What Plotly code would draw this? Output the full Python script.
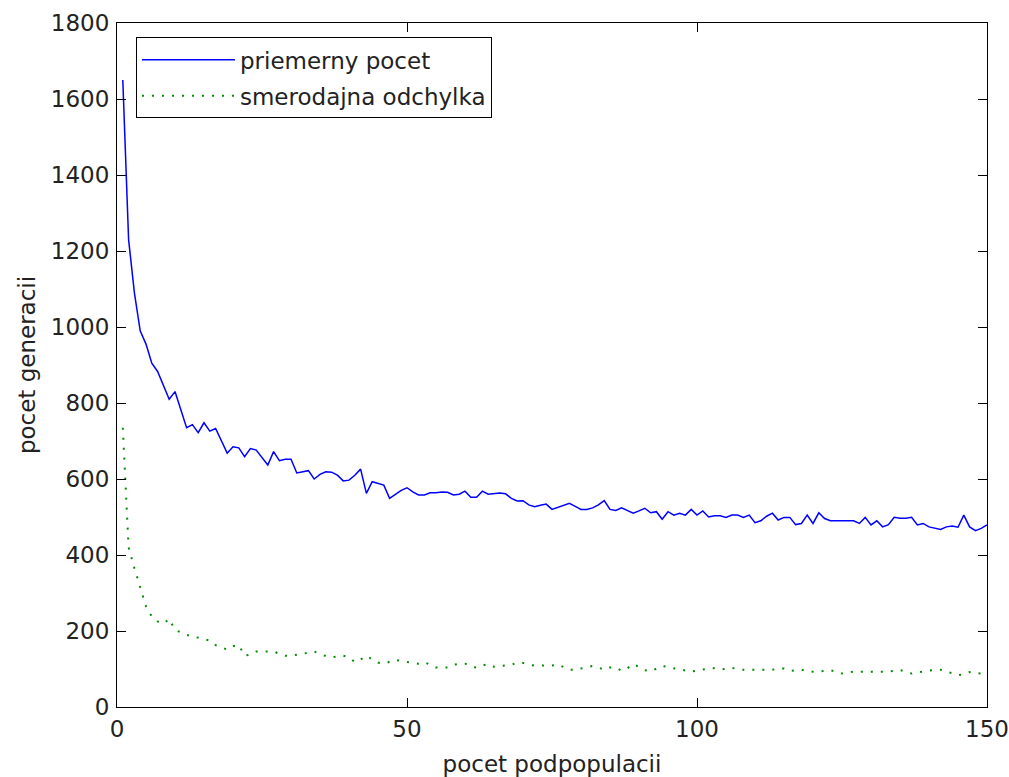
import plotly.graph_objects as go

# x: number of subpopulations
x_vals = list(range(1, 151))

# mean number of generations ("priemerny pocet")
mean_vals = [
    1650, 1230, 1090, 990, 955, 905, 883, 848, 810, 830,
    785, 735, 743, 722, 748, 726, 733, 700, 668, 685,
    682, 659, 680, 676, 655, 637, 672, 648, 652, 652,
    616, 620, 622, 600, 612, 619, 618, 610, 595, 597,
    610, 626, 562, 593, 588, 584, 549, 560, 570, 577,
    566, 558, 558, 564, 564, 566, 565, 558, 560, 568,
    552, 552, 568, 560, 562, 563, 561, 549, 542, 543,
    532, 527, 531, 534, 520, 525, 530, 536, 528, 520,
    520, 524, 532, 543, 520, 517, 524, 518, 510, 516,
    523, 511, 514, 494, 514, 505, 510, 505, 520, 505,
    516, 500, 503, 503, 499, 505, 505, 499, 505, 485,
    490, 502, 510, 492, 499, 499, 480, 483, 505, 483,
    511, 496, 490, 490, 490, 490, 490, 483, 499, 479,
    490, 474, 480, 499, 497, 497, 499, 479, 483, 474,
    470, 467, 474, 476, 473, 505, 474, 464, 470, 479,
]

# standard deviation ("smerodajna odchylka")
std_vals = [
    735, 420, 365, 318, 265, 238, 225, 219, 232, 203,
    196, 190, 186, 182, 179, 175, 163, 156, 151, 160,
    163, 135, 138, 146, 146, 146, 146, 140, 135, 135,
    137, 140, 143, 146, 140, 134, 131, 133, 135, 131,
    118, 125, 135, 125, 117, 114, 118, 124, 121, 119,
    116, 114, 118, 110, 104, 103, 104, 111, 114, 114,
    109, 103, 109, 113, 106, 108, 109, 111, 117, 116,
    111, 109, 109, 109, 109, 112, 104, 98, 98, 101,
    104, 108, 104, 98, 104, 104, 95, 102, 113, 104,
    97, 94, 100, 108, 105, 102, 99, 96, 93, 96,
    99, 101, 102, 99, 100, 103, 100, 98, 98, 98,
    98, 98, 98, 101, 101, 95, 96, 98, 95, 93,
    93, 95, 97, 93, 88, 91, 93, 93, 93, 93,
    93, 93, 93, 95, 97, 93, 88, 91, 94, 97,
    98, 98, 93, 87, 84, 86, 92, 90, 88, 88,
]

x_ticks = [0, 50, 100, 150]
y_ticks = [0, 200, 400, 600, 800, 1000, 1200, 1400, 1600, 1800]

FONT = "DejaVu Sans"
FSIZE = 23
TXT = "#222"

fig = go.Figure()
fig.add_trace(go.Scatter(
    x=x_vals, y=mean_vals, mode="lines", name="priemerny pocet",
    line=dict(color="#0000FF", width=1.5), legendgroup="a",
))
fig.add_trace(go.Scatter(
    x=x_vals, y=std_vals, mode="lines", name="smerodajna odchylka",
    line=dict(color="rgb(0,140,0)", width=2, dash="2px,8px"), legendgroup="b",
))

axis_common = dict(
    showline=True, linecolor="black", linewidth=1, mirror="ticks",
    ticks="inside", ticklen=9, tickcolor="black", tickwidth=1,
    showgrid=False, zeroline=False, ticklabeloverflow="allow",
    tickfont=dict(family=FONT, size=FSIZE, color=TXT),
)

fig.update_xaxes(
    range=[0, 150], tickvals=x_ticks, ticktext=[str(v) for v in x_ticks],
    ticklabelstandoff=1,
    title=dict(text="pocet podpopulacii", font=dict(family=FONT, size=FSIZE, color=TXT), standoff=18),
    **axis_common,
)
fig.update_yaxes(
    range=[0, 1800], tickvals=y_ticks, ticktext=[str(v) for v in y_ticks],
    ticklabelstandoff=2,
    title=dict(text="pocet generacii", font=dict(family=FONT, size=FSIZE, color=TXT), standoff=8),
    **axis_common,
)

fig.update_layout(
    width=1009, height=777,
    margin=dict(l=117, r=22, t=23, b=70, autoexpand=False),
    paper_bgcolor="white", plot_bgcolor="white",
    showlegend=True,
    legend=dict(
        x=0.0218, y=0.979, xanchor="left", yanchor="top",
        bordercolor="black", borderwidth=1, bgcolor="white",
        font=dict(family=FONT, size=FSIZE, color=TXT),
        itemwidth=93, tracegroupgap=3,
    ),
)

# remove the page's default 8px body margin so the figure fills the window exactly
fig.write_html(
    "out.html",
    config={"displayModeBar": False},
    post_script="document.body.style.margin='0';document.body.style.overflow='hidden';",
)
